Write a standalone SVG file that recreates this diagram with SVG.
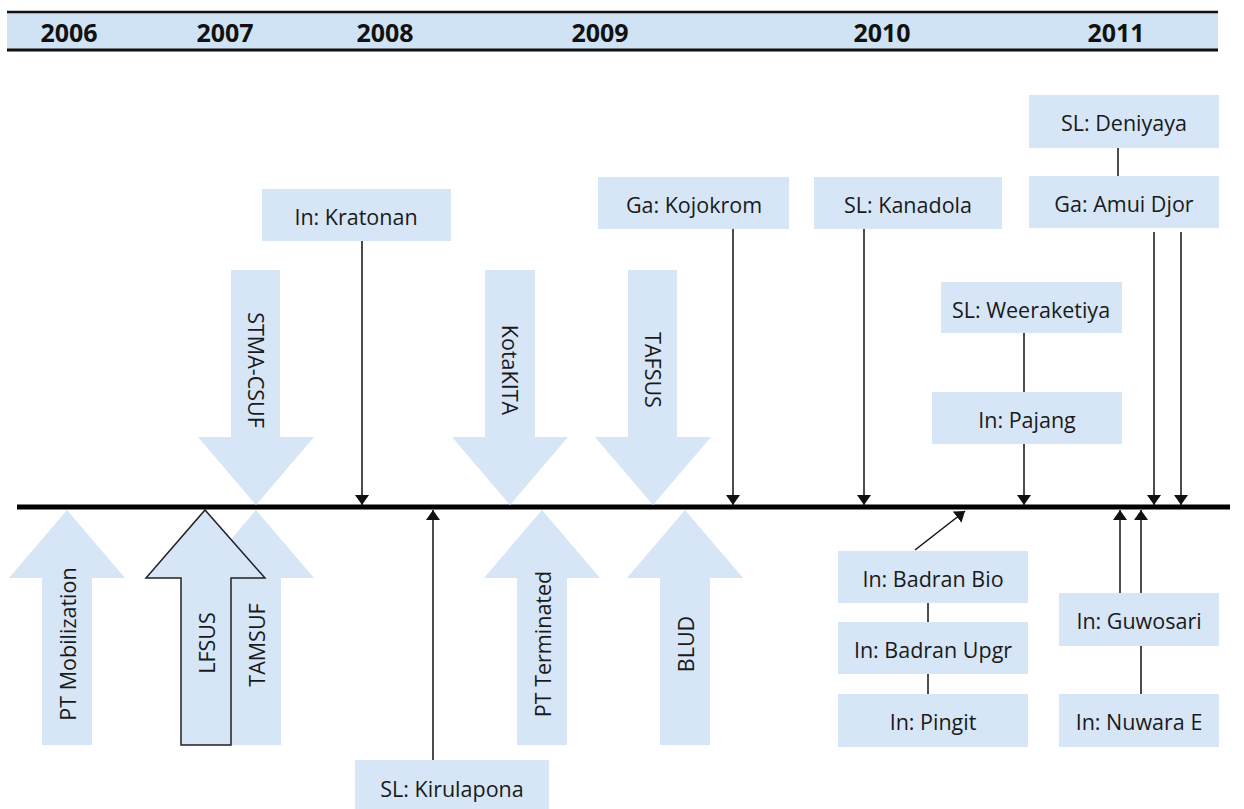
<svg xmlns="http://www.w3.org/2000/svg" width="1244" height="809" viewBox="0 0 1244 809">
<style>
.yr{font-family:"Open Sans","Liberation Sans",sans-serif;font-weight:bold;font-size:25px;fill:#111;text-anchor:middle}
.box{fill:#d6e6f6}
.lbl{font-family:"Open Sans","Liberation Sans",sans-serif;font-size:21.5px;fill:#1a1a1a;text-anchor:middle;dominant-baseline:central}
.big{fill:#d6e6f6}
.ln{stroke:#111;stroke-width:1.5;fill:none}
.arr{stroke:#111;stroke-width:1.5;fill:none;marker-end:url(#ah)}
</style>
<defs>
<marker id="ah" viewBox="0 0 10 14" refX="10" refY="7" markerWidth="10" markerHeight="14" markerUnits="userSpaceOnUse" orient="auto">
<path d="M0,0 L10,7 L0,14 Z" fill="#111"/>
</marker>
</defs>
<g id="header">
<rect x="7" y="12" width="1211" height="38" fill="#d0e3f4"/>
<line x1="7" y1="12" x2="1218" y2="12" stroke="#111" stroke-width="2.5"/>
<line x1="7" y1="50" x2="1218" y2="50" stroke="#111" stroke-width="3"/>
<text class="yr" x="69" y="42">2006</text>
<text class="yr" x="225" y="42">2007</text>
<text class="yr" x="385" y="42">2008</text>
<text class="yr" x="600" y="42">2009</text>
<text class="yr" x="882" y="42">2010</text>
<text class="yr" x="1116" y="42">2011</text>
</g>
<g id="timeline"><line x1="17" y1="507" x2="1230" y2="507" stroke="#000" stroke-width="5"/></g>

<g id="stma-csuf"><path class="big" d="M231,270 H280 V437 H314 L256,505 L198,437 H231 Z"/><text class="lbl" transform="translate(256,370) rotate(90)">STMA-CSUF</text></g>
<g id="kotakita"><path class="big" d="M485,270 H535 V437 H568 L510,505 L452,437 H485 Z"/><text class="lbl" transform="translate(510,370) rotate(90)">KotaKITA</text></g>
<g id="tafsus"><path class="big" d="M628,270 H677 V437 H711 L653,505 L595,437 H628 Z"/><text class="lbl" transform="translate(653,370) rotate(90)">TAFSUS</text></g>

<g id="pt-mobilization"><path class="big" d="M42,745 H92 V578 H125 L67,510 L9,578 H42 Z"/><text class="lbl" transform="translate(67,644) rotate(-90)">PT Mobilization</text></g>
<g id="tamsuf"><path class="big" d="M231,745 H281 V578 H314 L256,510 L198,578 H231 Z"/><text class="lbl" transform="translate(256,645) rotate(-90)">TAMSUF</text></g>
<g id="lfsus"><path d="M181,745 H231 V578 H265 L205,510 L146,578 H181 Z" fill="#d6e6f6" stroke="#222" stroke-width="1.5"/><text class="lbl" transform="translate(206,643) rotate(-90)">LFSUS</text></g>
<g id="pt-terminated"><path class="big" d="M517,745 H567 V578 H600 L542,510 L484,578 H517 Z"/><text class="lbl" transform="translate(542,644) rotate(-90)">PT Terminated</text></g>
<g id="blud"><path class="big" d="M660,745 H710 V578 H743 L685,510 L627,578 H660 Z"/><text class="lbl" transform="translate(685,644) rotate(-90)">BLUD</text></g>

<g id="kratonan"><rect class="box" x="262" y="189" width="189" height="52"/><text class="lbl" x="356" y="216">In: Kratonan</text></g>
<g id="kojokrom"><rect class="box" x="598" y="177" width="191" height="52"/><text class="lbl" x="694" y="204">Ga: Kojokrom</text></g>
<g id="kanadola"><rect class="box" x="814" y="177" width="188" height="52"/><text class="lbl" x="908" y="204">SL: Kanadola</text></g>
<g id="deniyaya"><rect class="box" x="1029" y="95" width="190" height="53"/><text class="lbl" x="1124" y="122">SL: Deniyaya</text></g>
<g id="amui-djor"><rect class="box" x="1029" y="176" width="190" height="52"/><text class="lbl" x="1124" y="203">Ga: Amui Djor</text></g>
<g id="weeraketiya"><rect class="box" x="941" y="282" width="181" height="51"/><text class="lbl" x="1031" y="309">SL: Weeraketiya</text></g>
<g id="pajang"><rect class="box" x="932" y="392" width="190" height="52"/><text class="lbl" x="1027" y="419">In: Pajang</text></g>
<g id="kirulapona"><rect class="box" x="355" y="760" width="194" height="49"/><text class="lbl" x="452" y="788">SL: Kirulapona</text></g>
<g id="badran-bio"><rect class="box" x="838" y="551" width="190" height="52"/><text class="lbl" x="933" y="578">In: Badran Bio</text></g>
<g id="badran-upgr"><rect class="box" x="838" y="622" width="190" height="52"/><text class="lbl" x="933" y="649">In: Badran Upgr</text></g>
<g id="pingit"><rect class="box" x="838" y="694" width="190" height="53"/><text class="lbl" x="933" y="721">In: Pingit</text></g>
<g id="guwosari"><rect class="box" x="1059" y="593" width="160" height="53"/><text class="lbl" x="1139" y="620">In: Guwosari</text></g>
<g id="nuwara-e"><rect class="box" x="1059" y="694" width="160" height="53"/><text class="lbl" x="1139" y="721">In: Nuwara E</text></g>

<g id="connectors">
<line class="arr" x1="362" y1="241" x2="362" y2="505"/>
<line class="arr" x1="733" y1="229" x2="733" y2="505"/>
<line class="arr" x1="864" y1="229" x2="864" y2="505"/>
<line class="ln" x1="1118" y1="148" x2="1118" y2="176"/>
<line class="arr" x1="1154" y1="232" x2="1154" y2="505"/>
<line class="arr" x1="1181" y1="232" x2="1181" y2="505"/>
<line class="ln" x1="1024" y1="333" x2="1024" y2="392"/>
<line class="arr" x1="1024" y1="444" x2="1024" y2="505"/>
<line class="arr" x1="433" y1="760" x2="433" y2="510"/>
<line class="arr" x1="915" y1="550" x2="965" y2="511"/>
<line class="ln" x1="928" y1="603" x2="928" y2="622"/>
<line class="ln" x1="928" y1="674" x2="928" y2="694"/>
<line class="arr" x1="1120" y1="593" x2="1120" y2="510"/>
<line class="arr" x1="1141" y1="593" x2="1141" y2="510"/>
<line class="ln" x1="1141" y1="646" x2="1141" y2="694"/>
</g>
</svg>
